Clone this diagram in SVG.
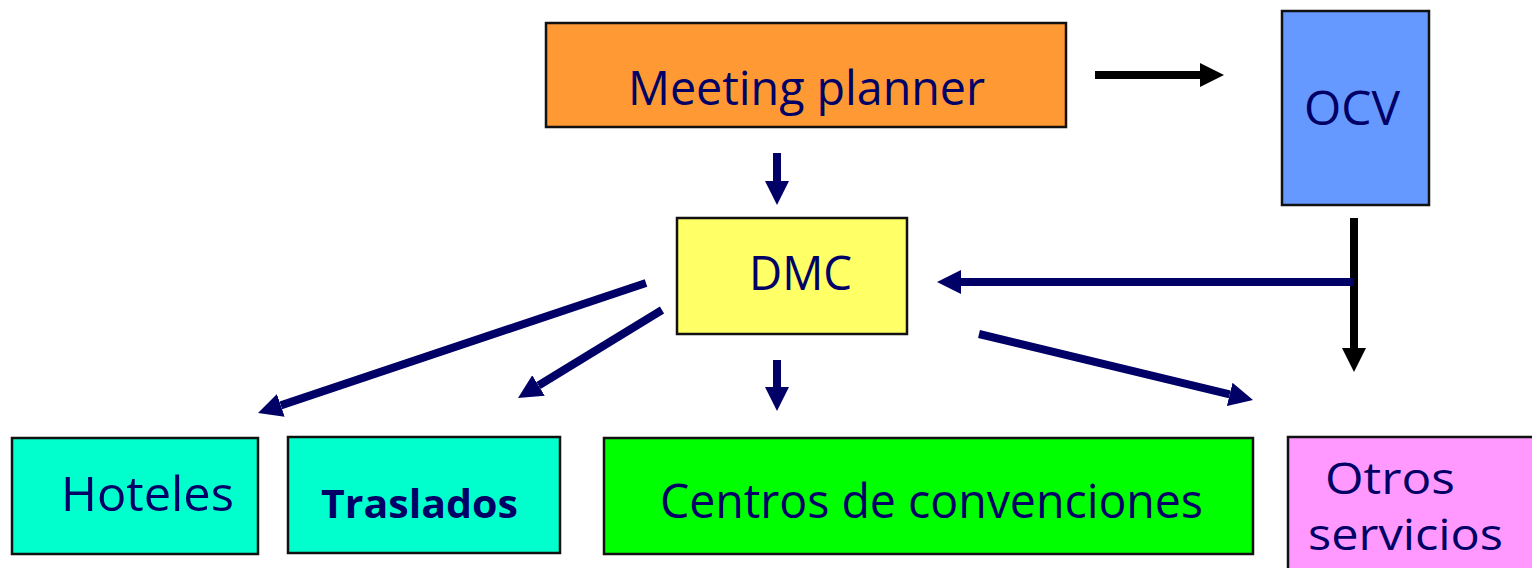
<svg xmlns="http://www.w3.org/2000/svg" width="1532" height="568" viewBox="0 0 1532 568">
<defs>
<style>
.box{stroke:#111;stroke-width:2.5}
.t{font-family:"Open Sans","DejaVu Sans",sans-serif;font-size:48px;fill:#000066}
.ts{font-family:"Open Sans","DejaVu Sans",sans-serif;font-size:44px;fill:#000066}
.tb{font-family:"Open Sans","DejaVu Sans",sans-serif;font-size:40px;font-weight:bold;fill:#000066}
.nv{stroke:#000066;stroke-width:8;fill:none}
.bk{stroke:#000;stroke-width:8;fill:none}
</style>
<marker id="an" viewBox="0 0 24 24" refX="0" refY="12" markerWidth="24" markerHeight="24" orient="auto" markerUnits="userSpaceOnUse">
<path d="M0,0 L24,12 L0,24 z" fill="#000066"/>
</marker>
<marker id="ab" viewBox="0 0 24 24" refX="0" refY="12" markerWidth="24" markerHeight="24" orient="auto" markerUnits="userSpaceOnUse">
<path d="M0,0 L24,12 L0,24 z" fill="#000"/>
</marker>
</defs>
<rect width="1532" height="568" fill="#fff"/>
<g id="meeting-planner">
<rect class="box" x="546" y="23" width="520" height="104" fill="#FF9933"/>
<text class="t" x="628" y="105" textLength="357" lengthAdjust="spacingAndGlyphs">Meeting planner</text>
</g>
<g id="ocv">
<rect class="box" x="1282" y="11" width="147" height="194" fill="#6699FF"/>
<text class="t" x="1304" y="125" textLength="96" lengthAdjust="spacingAndGlyphs">OCV</text>
</g>
<g id="dmc">
<rect class="box" x="677" y="218" width="230" height="116" fill="#FFFF66"/>
<text class="t" x="749" y="290" textLength="103" lengthAdjust="spacingAndGlyphs">DMC</text>
</g>
<g id="hoteles">
<rect class="box" x="12" y="438" width="246" height="116" fill="#00FFCC"/>
<text class="t" x="61" y="511" textLength="173" lengthAdjust="spacingAndGlyphs">Hoteles</text>
</g>
<g id="traslados">
<rect class="box" x="288" y="437" width="272" height="116" fill="#00FFCC"/>
<text class="tb" x="321" y="518" textLength="197" lengthAdjust="spacingAndGlyphs">Traslados</text>
</g>
<g id="centros">
<rect class="box" x="604" y="438" width="649" height="116" fill="#00FF00"/>
<text class="t" x="660" y="518" textLength="543" lengthAdjust="spacingAndGlyphs">Centros de convenciones</text>
</g>
<g id="otros">
<rect class="box" x="1288" y="437" width="250" height="140" fill="#FF99FF"/>
<text class="ts" x="1325" y="494" textLength="130" lengthAdjust="spacingAndGlyphs">Otros</text>
<text class="ts" x="1308" y="550" textLength="195" lengthAdjust="spacingAndGlyphs">servicios</text>
</g>
<g id="connectors">
<line class="bk" x1="1095" y1="75" x2="1200" y2="75" marker-end="url(#ab)"/>
<line class="bk" x1="1354" y1="218" x2="1354" y2="348" marker-end="url(#ab)"/>
<line class="nv" x1="1354" y1="282" x2="961" y2="282" marker-end="url(#an)"/>
<line class="nv" x1="777" y1="153" x2="777" y2="181" marker-end="url(#an)"/>
<line class="nv" x1="777" y1="360" x2="777" y2="387" marker-end="url(#an)"/>
<line class="nv" x1="646" y1="283" x2="280.8" y2="405.4" marker-end="url(#an)"/>
<line class="nv" x1="662" y1="310" x2="538.5" y2="385.5" marker-end="url(#an)"/>
<line class="nv" x1="979" y1="334" x2="1229.7" y2="394.4" marker-end="url(#an)"/>
</g>
</svg>
